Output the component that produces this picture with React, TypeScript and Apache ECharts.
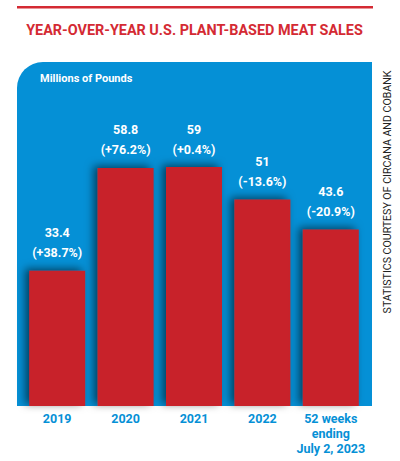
import React, { useEffect, useRef } from "react";
import * as echarts from "echarts";

const categories = ["2019", "2020", "2021", "2022", "52 weeks\nending\nJuly 2, 2023"];
const sales = [33.4, 58.8, 59, 51, 43.6];
const changes = ["+38.7%", "+76.2%", "+0.4%", "-13.6%", "-20.9%"];

const RED = "#c8232c";
const BLUE = "#0590d6";
const FONT = "Roboto";

export default function App() {
  const ref = useRef<HTMLDivElement>(null);
  useEffect(() => {
    if (!ref.current) return;
    const chart = echarts.init(ref.current, undefined, { renderer: "svg" });
    chart.setOption({
      animation: false,
      backgroundColor: "#ffffff",
      graphic: [
        { type: "rect", shape: { x: 17, y: 6, width: 356, height: 2.5 }, style: { fill: "#d42a33" }, silent: true },
        {
          type: "text",
          x: 194.5,
          y: 30,
          style: {
            text: "YEAR-OVER-YEAR U.S. PLANT-BASED MEAT SALES",
            fill: "#d42a33",
            font: `bold 14.4px ${FONT}`,
            textAlign: "center",
            textVerticalAlign: "middle",
          },
        },
        {
          type: "rect",
          z: -10,
          shape: { x: 17, y: 62, width: 355, height: 344, r: [26, 0, 0, 0] },
          style: { fill: BLUE },
          silent: true,
        },
        {
          type: "text",
          x: 40,
          y: 78,
          z: 10,
          style: {
            text: "Millions of Pounds",
            fill: "#ffffff",
            font: `bold 11px ${FONT}`,
            textVerticalAlign: "middle",
          },
        },
        {
          type: "text",
          x: 387,
          y: 192,
          rotation: Math.PI / 2,
          style: {
            text: "STATISTICS COURTESY OF CIRCANA AND COBANK",
            fill: "#222222",
            font: `10.6px ${FONT}`,
            textAlign: "center",
            textVerticalAlign: "middle",
          },
        },
      ],
      grid: { left: 23, right: 35, top: 78, bottom: 55, containLabel: false },
      xAxis: {
        type: "category",
        data: categories,
        axisLine: { show: false },
        axisTick: { show: false },
        axisLabel: {
          color: BLUE,
          fontFamily: FONT,
          fontWeight: "bold",
          fontSize: 12.5,
          lineHeight: 15,
          margin: 5,
          interval: 0,
          verticalAlign: "top",
        },
      },
      yAxis: {
        type: "value",
        min: 0,
        max: 81,
        show: false,
        splitLine: { show: false },
      },
      series: [
        {
          type: "bar",
          data: sales,
          barWidth: 56,
          itemStyle: {
            color: RED,
            shadowColor: "rgba(0,0,0,0.55)",
            shadowBlur: 8,
            shadowOffsetX: -4,
            shadowOffsetY: -2,
          },
          label: {
            show: true,
            position: "top",
            distance: 8,
            color: "#ffffff",
            fontFamily: FONT,
            fontWeight: "bold",
            fontSize: 12.5,
            lineHeight: 20,
            formatter: (p: any) => `${p.value}\n(${changes[p.dataIndex]})`,
          },
        },
      ],
    });
    return () => chart.dispose();
  }, []);
  return <div ref={ref} style={{ width: 400, height: 461, position: "absolute", left: 0, top: 0 }} />;
}
